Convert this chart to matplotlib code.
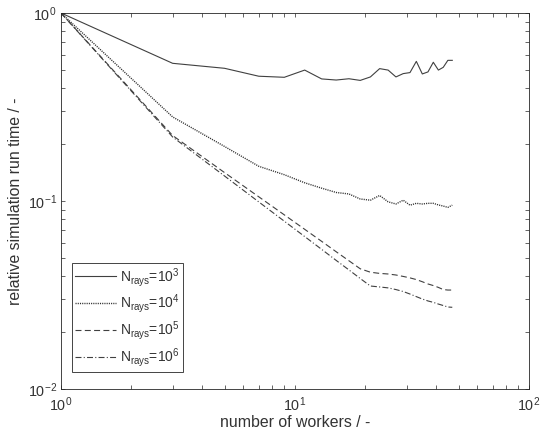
import matplotlib
matplotlib.use("Agg")
import matplotlib.pyplot as plt

plt.rcParams['font.family'] = ['Liberation Sans', 'DejaVu Sans']
plt.rcParams['mathtext.default'] = 'regular'
plt.rcParams['lines.scale_dashes'] = False

workers = [1, 3, 5, 7, 9, 11, 13, 15, 17, 19, 21, 23, 25, 27, 29, 31, 33, 35, 37, 39, 41, 43, 45, 47]

t_1e3 = [1.0, 0.54, 0.508, 0.461, 0.455, 0.497, 0.446, 0.440, 0.447, 0.438, 0.457, 0.506,
         0.497, 0.457, 0.476, 0.482, 0.553, 0.474, 0.486, 0.547, 0.497, 0.514, 0.560, 0.560]
t_1e4 = [1.0, 0.280, 0.195, 0.153, 0.138, 0.125, 0.117, 0.111, 0.109, 0.1025, 0.101, 0.107,
         0.099, 0.0964, 0.101, 0.095, 0.0972, 0.0964, 0.0972, 0.0972, 0.0953, 0.094, 0.0925, 0.095]
t_1e5 = [1.0, 0.223, 0.1416, 0.1053, 0.0844, 0.0707, 0.061, 0.0537, 0.0481, 0.0436, 0.0418, 0.0412,
         0.0409, 0.0404, 0.0397, 0.039, 0.0382, 0.0372, 0.0362, 0.0355, 0.0347, 0.0338, 0.0336, 0.0336]
t_1e6 = [1.0, 0.219, 0.1358, 0.0989, 0.0781, 0.0647, 0.0553, 0.0483, 0.043, 0.0387, 0.0353, 0.0349,
         0.0345, 0.0338, 0.033, 0.032, 0.031, 0.0301, 0.0294, 0.0289, 0.0283, 0.0278, 0.0273, 0.0272]

labels = [r'N$_{rays}$=10$^{3}$', r'N$_{rays}$=10$^{4}$', r'N$_{rays}$=10$^{5}$', r'N$_{rays}$=10$^{6}$']

fig = plt.figure(figsize=(5.42, 4.33), dpi=100)
ax = fig.add_axes([61/542, 1-389/433, 468/542, 376/433])

lc = '#404040'
lw = 0.8
ax.plot(workers, t_1e3, color=lc, lw=lw, linestyle='-', label=labels[0])
ax.plot(workers, t_1e4, color='#303030', lw=1.0, linestyle=(0, (0.8, 0.8)), label=labels[1])
ax.plot(workers, t_1e5, color=lc, lw=lw, linestyle=(0, (4.3, 2.4)), label=labels[2])
ax.plot(workers, t_1e6, color=lc, lw=lw, linestyle=(0, (4.3, 1.6, 0.8, 1.6)), label=labels[3])

ax.set_xscale('log')
ax.set_yscale('log')
ax.set_xlim(1, 100)
ax.set_ylim(0.01, 1)

ac = '#262626'
tc = '#333333'
for s in ax.spines.values():
    s.set_color(ac)
    s.set_linewidth(0.6)
ax.tick_params(which='both', direction='in', top=True, right=True, length=3.2, width=0.5,
               color=ac, labelsize=10.4, labelcolor=tc)
ax.tick_params(axis='x', which='major', pad=4.5)
ax.tick_params(axis='y', which='major', pad=3)
ax.set_xlabel('number of workers / -', fontsize=11.4, color=tc, labelpad=1)
ax.set_ylabel('relative simulation run time / -', fontsize=11.4, color=tc, labelpad=3)

leg = ax.legend(loc='lower left', bbox_to_anchor=(0.0235, 0.045), borderaxespad=0,
                fontsize=10, handlelength=2.95, handletextpad=0.34, labelspacing=0.29,
                borderpad=0.2, fancybox=False, framealpha=1)
leg.get_frame().set_edgecolor(ac)
leg.get_frame().set_linewidth(0.6)
for t in leg.get_texts():
    t.set_color(tc)

fig.savefig('out.png', dpi=100)
